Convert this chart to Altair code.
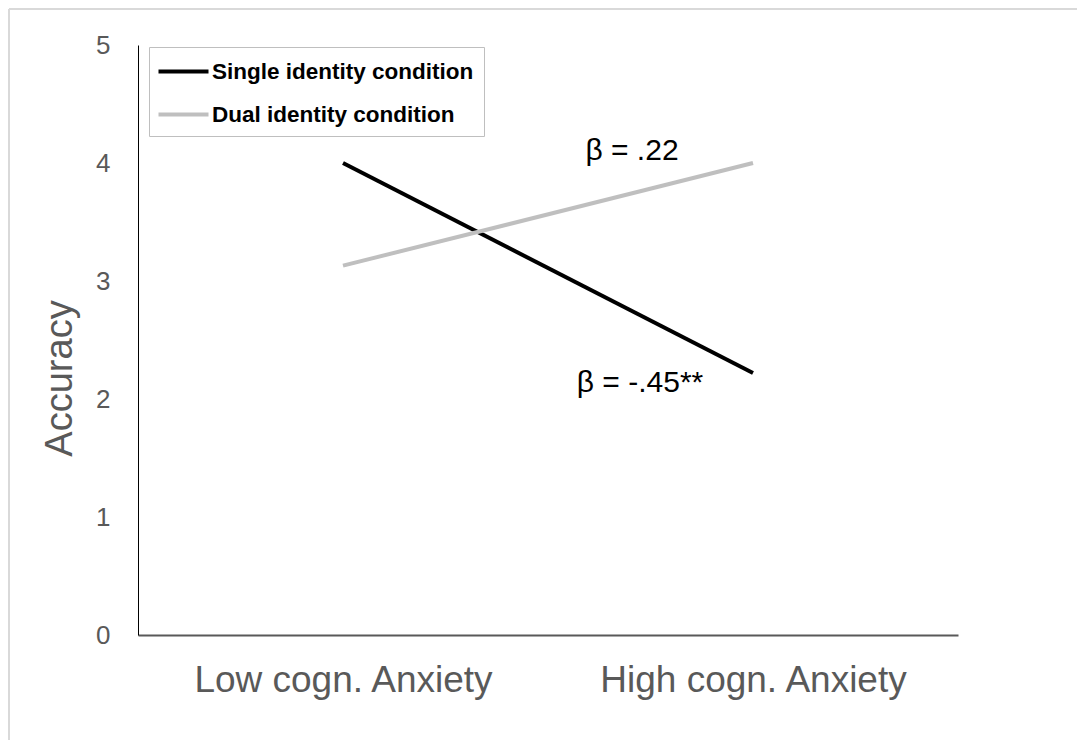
import altair as alt
import pandas as pd

# ---- data ----
categories = ["Low cogn. Anxiety", "High cogn. Anxiety"]
series_names = ["Single identity condition", "Dual identity condition"]
single_values = [4.0, 2.22]
dual_values = [3.13, 4.0]
y_ticks = [0, 1, 2, 3, 4, 5]
annot_labels = ["β = .22", "β = -.45**"]

rows = []
for name, vals in zip(series_names, [single_values, dual_values]):
    for c, v in zip(categories, vals):
        rows.append({"cond": c, "acc": v, "series": name})
df = pd.DataFrame(rows)

FONT = "Liberation Sans"
GRAY = "#595959"

x_enc = alt.X("cond:N", sort=categories,
              scale=alt.Scale(type="point", padding=0.5),
              axis=alt.Axis(title=None, labelAngle=0, labelFontSize=37,
                            labelColor=GRAY, labelFont=FONT, labelPadding=27,
                            labelLimit=0, ticks=False, domainColor=GRAY,
                            domainWidth=2))
y_enc = alt.Y("acc:Q", scale=alt.Scale(domain=[0, 5], nice=False),
              axis=alt.Axis(title="Accuracy", values=y_ticks, format="d",
                            grid=False, ticks=False, labelFontSize=26,
                            labelColor=GRAY, labelFont=FONT, labelPadding=28,
                            domainColor="#000000", domainWidth=1,
                            titleFontSize=38, titleColor=GRAY, titleFont=FONT,
                            titleFontWeight="normal", titlePadding=16,
                            titleY=333))

lines = alt.Chart(df).mark_line(strokeWidth=4).encode(
    x=x_enc, y=y_enc,
    color=alt.Color("series:N", sort=series_names,
                    scale=alt.Scale(domain=series_names, range=["#000000", "#bfbfbf"]),
                    legend=alt.Legend(title=None, orient="none", legendX=11, legendY=2,
                                      symbolType="M-1.2,0H2.8", symbolSize=625,
                                      symbolStrokeWidth=4, labelFont=FONT,
                                      labelFontWeight="bold", labelFontSize=22.5,
                                      labelColor="#000000", labelOffset=24,
                                      strokeColor="#bfbfbf", padding=10,
                                      rowPadding=17, labelLimit=400)),
)

ann_df1 = pd.DataFrame({"cond": [categories[1]], "acc": [dual_values[1]], "t": [annot_labels[0]]})
ann_df2 = pd.DataFrame({"cond": [categories[1]], "acc": [single_values[1]], "t": [annot_labels[1]]})

ann1 = alt.Chart(ann_df1).mark_text(font=FONT, fontSize=30, color="#000000",
                                    dx=-121, dy=-12).encode(
    x=alt.X("cond:N", sort=categories), y="acc:Q", text="t:N")
ann2 = alt.Chart(ann_df2).mark_text(font=FONT, fontSize=30, color="#000000",
                                    dx=-113, dy=10).encode(
    x=alt.X("cond:N", sort=categories), y="acc:Q", text="t:N")

frame_df = pd.DataFrame({"k": [0]})
top_rule = alt.Chart(frame_df).mark_rule(color="#d9d9d9", strokeWidth=2).encode(
    x=alt.value(-129), x2=alt.value(939), y=alt.value(-36))
left_rule = alt.Chart(frame_df).mark_rule(color="#d9d9d9", strokeWidth=2).encode(
    x=alt.value(-129), y=alt.value(-36), y2=alt.value(695))

chart = alt.layer(top_rule, left_rule, lines, ann1, ann2).properties(
    width=820, height=590,
    padding={"left": 130, "top": 37, "right": 119, "bottom": 105},
    autosize=alt.AutoSizeParams(type="none"),
    background="white",
).configure_view(stroke=None)

chart.save("out.html", embed_options={"renderer": "svg", "actions": False})
